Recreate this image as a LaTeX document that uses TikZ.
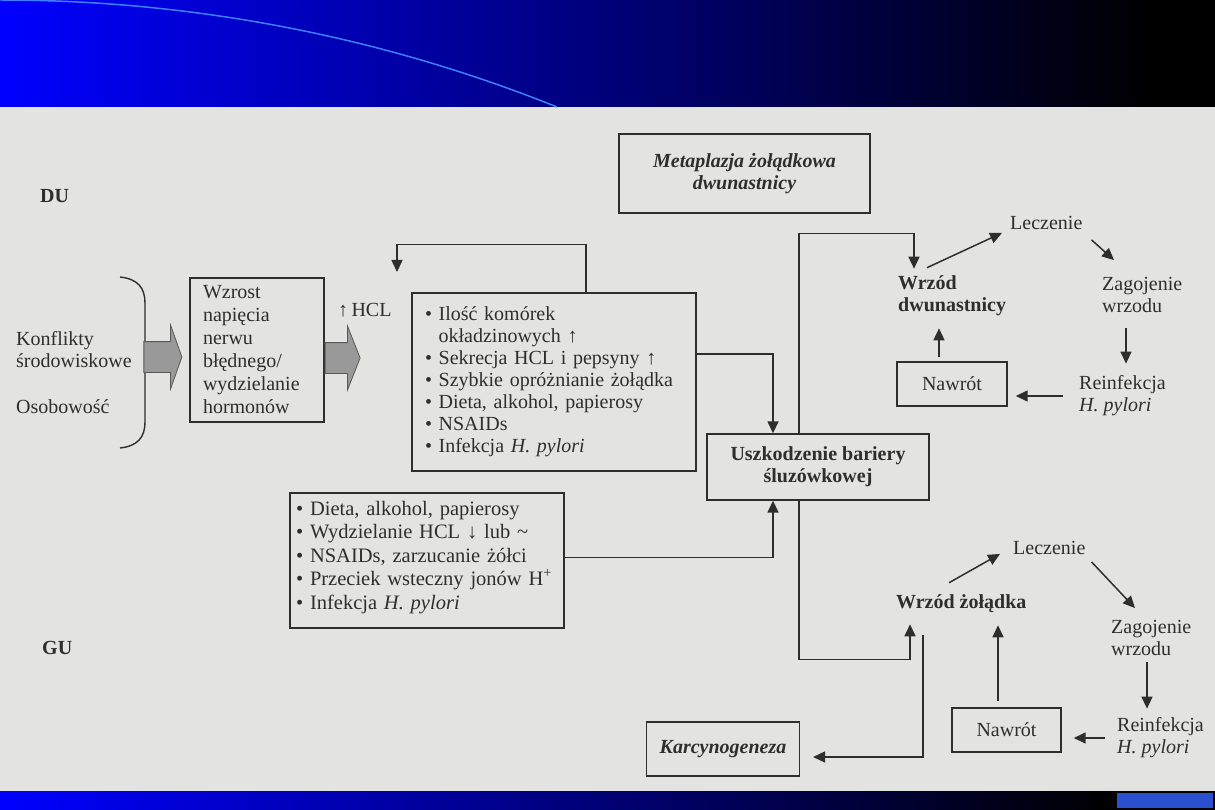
\documentclass[tikz,border=0pt]{standalone}
\usepackage{fontspec}
\setmainfont{Liberation Serif}
\usetikzlibrary{arrows.meta,shapes.arrows}

\definecolor{tlo}{HTML}{E3E3E1}
\definecolor{tusz}{HTML}{2E2E2E}
\definecolor{pasek}{RGB}{0,0,255}
\definecolor{luk}{HTML}{3F7FFF}
\definecolor{kafel}{HTML}{2B50CF}

\begin{document}
\begin{tikzpicture}[x=1pt,y=-1pt,
  % Node styles
  ramka/.style={draw=tusz, line width=1.4pt, text=tusz, font=\fontsize{20}{22}\selectfont,
                inner xsep=13pt, inner ysep=0pt},
  lista/.style={ramka, align=left},
  tytul/.style={ramka, align=center, font=\fontsize{20}{22}\selectfont\bfseries},
  napis/.style={text=tusz, font=\fontsize{20}{22}\selectfont, inner sep=0pt, align=left, anchor=west},
  % Arrow styles
  strz/.style={-{Triangle[length=12pt,width=11pt]}, line width=1.5pt, draw=tusz},
  gruba/.style={single arrow, draw=black!65, fill=black!40, line width=0.8pt,
                inner xsep=0pt, inner ysep=15pt, minimum width=0pt,
                single arrow head extend=16.5pt},
]
\useasboundingbox (0,0) rectangle (1215,810);

% === Background and slide bars ===
\fill[tlo] (0,0) rectangle (1215,810);
\shade[left color=pasek, right color=black] (0,0) rectangle (1150,107);
\fill[black] (1150,0) rectangle (1215,107);
\draw[luk, line width=1.5pt] (0,0) .. controls (191,0) and (380,36) .. (557,107);
\shade[left color=pasek, right color=black] (0,791) rectangle (1110,810);
\fill[black] (1110,791) rectangle (1215,810);
\fill[kafel] (1117,793) rectangle (1213,808);

% === Side labels ===
\node[napis, font=\fontsize{20}{22}\selectfont\bfseries] (du) at (40,196) {DU};
\node[napis, font=\fontsize{20}{22}\selectfont\bfseries] (gu) at (42,648) {GU};

% === Left column: causes ===
\node[napis] (konflikty) at (16,350) {Konflikty\\środowiskowe};
\node[napis] (osobowosc) at (16,407) {Osobowość};
\draw[tusz, line width=1.4pt] (120,277) .. controls (138,279) and (145,288) .. (145,303)
  -- (145,422) .. controls (145,437) and (138,446) .. (120,448);

\node[lista, font=\fontsize{20}{23}\selectfont, text width=108pt, minimum height=144pt] (wzrost) at (257,350)
  {Wzrost\\napięcia\\nerwu\\błędnego/\\wydzielanie\\hormonów};
\node[gruba, minimum height=38pt, single arrow tip angle=141, anchor=tip] (strzala1)
  at ([xshift=-7pt,yshift=-7pt]wzrost.west) {};
\node[gruba, minimum height=35pt, single arrow tip angle=137, anchor=tail] (strzala2)
  at ([yshift=-8pt]wzrost.east) {};
\node[napis] (hcl) at (338,310) {↑\,HCL};
\coordinate (hclcel) at (397,272);

% === Middle: factor boxes ===
\node[lista, text width=258pt, minimum height=178pt] (komorki) at (554,382)
  {• Ilość komórek\\\hphantom{• }okładzinowych ↑\\• Sekrecja HCL i pepsyny ↑\\%
   • Szybkie opróżnianie żołądka\\• Dieta, alkohol, papierosy\\• NSAIDs\\%
   • Infekcja \textit{H. pylori}};
\node[lista, font=\fontsize{20.5}{23.5}\selectfont, text width=262pt, inner xsep=6pt,
      text height=22pt, text depth=113pt] (czynniki) at (427,560.5)
  {• Dieta, alkohol, papierosy\\• Wydzielanie HCL ↓ lub \textasciitilde\\%
   • NSAIDs, zarzucanie żółci\\• Przeciek wsteczny jonów H\textsuperscript{+}\\%
   • Infekcja \textit{H. pylori}};
\node[tytul, font=\fontsize{20}{22}\selectfont\bfseries\itshape, minimum width=251pt,
      minimum height=79pt] (metapl) at (744.5,173.5) {Metaplazja żołądkowa\\dwunastnicy};
\node[tytul, minimum width=222pt, minimum height=66pt] (bariera) at (818,467)
  {Uszkodzenie bariery\\śluzówkowej};
\node[tytul, font=\fontsize{20}{22}\selectfont\bfseries\itshape, minimum width=152pt,
      minimum height=54pt] (karcyn) at (723,749) {Karcynogeneza};

% === DU cycle ===
\node[napis, font=\fontsize{20}{22}\selectfont\bfseries] (wrzod1) at (898,296) {Wrzód\\dwunastnicy};
\node[napis] (leczenie1) at (1010,223) {Leczenie};
\node[napis] (zagojenie1) at (1102,295) {Zagojenie\\wrzodu};
\node[napis] (reinf1) at (1079,396) {Reinfekcja\\\textit{H. pylori}};
\node[ramka, minimum width=110pt, minimum height=44pt] (nawrot1) at (952,384) {Nawrót};

% === GU cycle ===
\node[napis, font=\fontsize{20}{22}\selectfont\bfseries] (wrzod2) at (896,604) {Wrzód żołądka};
\node[napis] (leczenie2) at (1013,548) {Leczenie};
\node[napis] (zagojenie2) at (1111,638) {Zagojenie\\wrzodu};
\node[napis] (reinf2) at (1117,738) {Reinfekcja\\\textit{H. pylori}};
\node[ramka, minimum width=109pt, minimum height=44pt] (nawrot2) at (1006.5,730) {Nawrót};

% === Connectors into the barrier box ===
\draw[strz] ([xshift=32pt]komorki.north) -- ++(0,-48) -| (hclcel);
\draw[strz] ([yshift=28pt]komorki.east) -| ([xshift=-45pt]bariera.north);
\draw[strz] ([yshift=3pt]czynniki.east) -| ([xshift=-45pt]bariera.south);

% === Barrier to ulcers ===
\draw[strz, shorten >=7pt] ([xshift=-19pt]bariera.north) -- ++(0,-200) -| ([xshift=16pt]wrzod1.north west);
\draw[strz, shorten >=11pt] ([xshift=-19pt]bariera.south) -- ++(0,159) -| ([xshift=14pt]wrzod2.south west);
\draw[strz, shorten >=13pt] ([xshift=27pt,yshift=-22pt]wrzod2.south west) |- ([yshift=-8pt]karcyn.east);

% DU paths
\draw[strz] ([xshift=29pt,yshift=8pt]wrzod1.north west) -- ([xshift=-8pt,yshift=-3pt]leczenie1.south west);
\draw[strz] ([xshift=9pt,yshift=-10pt]leczenie1.south east) -- ([xshift=12pt,yshift=17pt]zagojenie1.north west);
\draw[strz] ([xshift=24pt,yshift=-15pt]zagojenie1.south west) -- ([xshift=47pt,yshift=12pt]reinf1.north west);
\draw[strz, shorten <=16pt, shorten >=8pt] (reinf1.west) -- (reinf1.west -| nawrot1.east);
\draw[strz, shorten >=12pt] ([xshift=-13pt,yshift=4pt]nawrot1.north) -- ([xshift=41pt]wrzod1.south west);

% GU paths
\draw[strz] ([xshift=53pt,yshift=12pt]wrzod2.north west) -- ([xshift=-13pt,yshift=1pt]leczenie2.south west);
\draw[strz] ([xshift=6pt,yshift=-7pt]leczenie2.south east) -- ([xshift=24pt,yshift=12pt]zagojenie2.north west);
\draw[strz] ([xshift=36pt,yshift=-6pt]zagojenie2.south west) -- ([xshift=30pt,yshift=9pt]reinf2.north west);
\draw[strz, shorten <=12pt, shorten >=12pt] (reinf2.west) -- (reinf2.west -| nawrot2.east);
\draw[strz, shorten >=12pt] ([xshift=-8.5pt,yshift=6pt]nawrot2.north) -- ([xshift=102pt]wrzod2.south west);

\end{tikzpicture}
\end{document}
